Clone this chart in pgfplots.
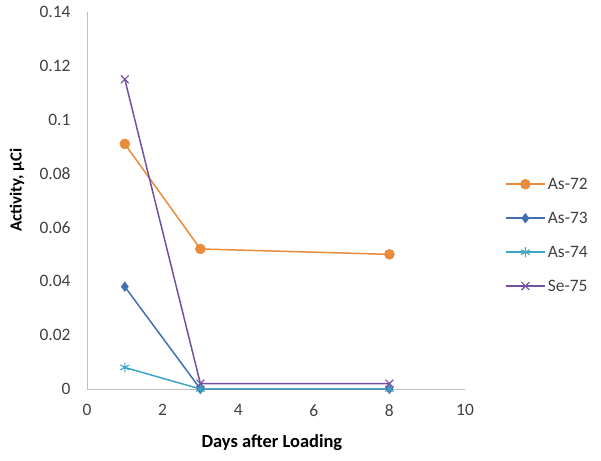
\documentclass[border=0pt]{standalone}
\usepackage{pgfplots}
\pgfplotsset{compat=1.18}
\usepackage{fontspec}
\setmainfont{Carlito}
\definecolor{cOr}{HTML}{E98B3C}
\definecolor{cBl}{HTML}{4170B0}
\definecolor{cAq}{HTML}{3AA5C4}
\definecolor{cPu}{HTML}{7550A0}
\definecolor{cTx}{HTML}{404040}
\definecolor{cAx}{HTML}{BFBFBF}
\begin{document}
\begin{tikzpicture}
\path[use as bounding box] (-87bp,-72bp) rectangle (514bp,389bp);
\begin{axis}[
  at={(0,0)}, anchor=south west,
  scale only axis, width=378bp, height=377bp,
  xmin=0, xmax=10, ymin=0, ymax=0.14,
  xtick={0,2,4,6,8,10},
  ytick={0,0.02,0.04,0.06,0.08,0.1,0.12,0.14},
  axis x line=bottom, axis y line=left,
  axis line style={draw=cAx, line width=0.8pt, -},
  major tick length=0pt,
  /pgf/number format/assume math mode=true,
  yticklabel style={/pgf/number format/fixed, /pgf/number format/precision=2, font=\fontsize{17.5}{20}\selectfont, text=cTx, xshift=-13bp},
  xticklabel style={font=\fontsize{17.5}{20}\selectfont, text=cTx, yshift=-12bp},
  xlabel={\textbf{Days after Loading}},
  ylabel={\textbf{Activity, µCi}},
  xlabel style={font=\fontsize{18.5}{21}\selectfont, text=black, at={(axis description cs:0.489,-0.143)}, anchor=center},
  ylabel style={font=\fontsize{17}{20}\selectfont, text=black, at={(axis description cs:-0.185,0.528)}, anchor=center},
  legend style={at={(1.105,0.408)}, anchor=west, draw=none, font=\fontsize{17.5}{20}\selectfont, text=cTx, row sep=17.2bp, inner sep=0pt, fill=none},
  legend cell align=left,
  legend image code/.code={\draw[mark repeat=2, mark phase=2, #1, line width=2pt] plot coordinates {(0bp,0bp) (19.5bp,0bp) (39bp,0bp)};},
]
\addplot[cOr, line width=1.5pt, mark=*, mark size=5bp, mark options={fill=cOr, draw=cOr, line width=0.5pt}] coordinates {(1,0.091) (3,0.052) (8,0.050)};
\addlegendentry{As-72}
\addplot[cBl, line width=1.5pt, mark=diamond*, mark size=4.8bp, mark options={fill=cBl, draw=cBl, line width=0.5pt}] coordinates {(1,0.038) (3,0) (8,0)};
\addlegendentry{As-73}
\addplot[cAq, line width=1.5pt, mark=asterisk, mark size=5bp, mark options={draw=cAq, line width=1.1pt}] coordinates {(1,0.008) (3,0) (8,0)};
\addlegendentry{As-74}
\addplot[cPu, line width=1.5pt, mark=x, mark size=5.5bp, mark options={draw=cPu, line width=1.1pt}] coordinates {(1,0.115) (3,0.002) (8,0.002)};
\addlegendentry{Se-75}
\end{axis}
\end{tikzpicture}
\end{document}
